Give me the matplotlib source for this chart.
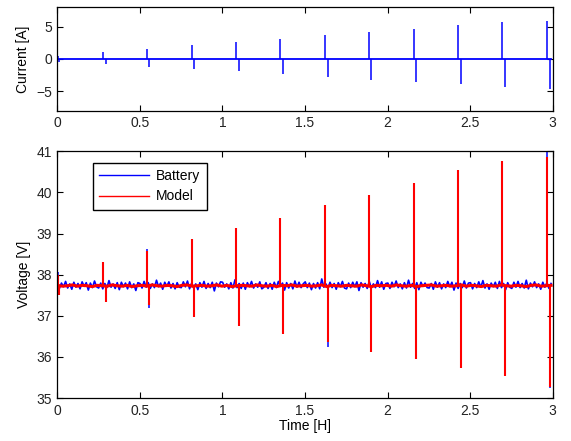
import matplotlib
matplotlib.use("Agg")
import matplotlib.pyplot as plt
import numpy as np

plt.rcParams['font.family'] = ['Liberation Sans', 'DejaVu Sans']
plt.rcParams['font.size'] = 10

# ---- data ----
spike_on = [0.003, 0.275, 0.545, 0.813, 1.081, 1.349, 1.620, 1.890, 2.160, 2.425, 2.695, 2.963]
spike_off = [0.012, 0.292, 0.558, 0.830, 1.099, 1.367, 1.637, 1.902, 2.172, 2.442, 2.712, 2.983]

current_on = [0.5, 1.1, 1.6, 2.1, 2.6, 3.1, 3.7, 4.2, 4.7, 5.3, 5.7, 5.8]
current_off = [-0.4, -0.8, -1.2, -1.5, -1.9, -2.3, -2.8, -3.2, -3.5, -3.8, -4.3, -4.7]

battery_on = [38.07, 38.30, 38.62, 38.86, 39.13, 39.38, 39.69, 39.94, 40.24, 40.54, 40.77, 41.20]
battery_off = [37.60, 37.33, 37.18, 36.98, 36.76, 36.56, 36.23, 36.11, 35.94, 35.74, 35.53, 35.25]
model_on = [38.00, 38.30, 38.58, 38.86, 39.13, 39.38, 39.69, 39.94, 40.24, 40.54, 40.77, 40.85]
model_off = [37.50, 37.33, 37.25, 36.98, 36.76, 36.56, 36.35, 36.11, 35.94, 35.74, 35.53, 35.27]

battery_level = 37.745
model_level = 37.73

# battery baseline wiggle, in hundredths of a volt around battery_level
battery_noise = [
    6, -8, 5, -4, 9, -7, 3, -10, 7, -5, 4, -9, 8, -3, 6, -12, 5, -6, 10, -4,
    -7, 5, -9, 4, -6, 11, -5, 3, -8, 6, -11, 7, -4, 5, -9, 8, -6, 3, -13, 6,
    4, -7, 9, -5, 6, -8, 3, -6, 12, -4, 5, -10, 7, -3, 8, -7, 4, -9, 6, -5,
    -6, 8, -4, 10, -9, 5, -7, 3, -11, 6, -5, 9, -8, 4, -6, 7, -14, 5, -4, 8,
    7, -5, 3, -9, 6, -7, 13, -6, 4, -8, 5, -10, 6, -4, 9, -7, 3, -5, 8, -9,
    -5, 6, -8, 4, -10, 7, -6, 9, -3, 5, -12, 6, -7, 4, -9, 10, -5, 7, -6, 3,
    8, -6, 5, -11, 4, -7, 6, -9, 15, -5, 3, -8, 7, -6, 4, -10, 6, -4, 9, -7,
    -9, 5, -6, 7, -4, 8, -13, 6, -5, 4, -8, 9, -7, 3, -6, 11, -5, 8, -10, 4,
    5, -8, 7, -4, 10, -6, 3, -9, 6, -7, 12, -5, 4, -8, 6, -11, 7, -3, 5, -6,
    -7, 4, -10, 8, -5, 6, -9, 3, -6, 9, -4, 7, -12, 5, -8, 4, -6, 10, -7, 5,
    6, -9, 4, -6, 8, -5, 11, -7, 3, -10, 5, -4, 7, -8, 9, -6, 4, -11, 6, -5,
    -8, 7, -5, 9, -6, 4, -7, 12, -9, 5, -4, 8, -6, 3, -10, 7, -5, 6, -8, 4,
]
# model baseline wiggle, in hundredths of a volt around model_level
model_noise = [
    1, -1, 0, 2, -1, 1, 0, -2, 1, 0, -1, 2, 0, -1, 1, -2, 0, 1, -1, 2,
    0, -1, 1, 0, -2, 1, 2, -1, 0, 1, -1, 0, 2, -1, 1, -2, 0, 1, 0, -1,
    2, 0, -1, 1, -2, 1, 0, 2, -1, 0, 1, -1, 0, 2, -2, 1, 0, -1, 1, 0,
    -1, 2, 0, -2, 1, 0, 1, -1, 2, 0, -1, 1, -2, 0, 1, 2, -1, 0, 1, -1,
    0, 2, -1, 1, 0, -2, 1, 0, -1, 2, 0, -1, 1, 0, -2, 1, 2, -1, 0, 1,
]

x_ticks = [0, 0.5, 1, 1.5, 2, 2.5, 3]
x_ticklabels = ['0', '0.5', '1', '1.5', '2', '2.5', '3']
current_ticks = [-5, 0, 5]
voltage_ticks = [35, 36, 37, 38, 39, 40, 41]

# ---- figure ----
fig = plt.figure(figsize=(5.71, 4.41), dpi=100)
ax1 = fig.add_axes([0.1004, 0.749, 0.8676, 0.2345])
ax2 = fig.add_axes([0.1004, 0.0975, 0.8676, 0.5594])

blue = '#0000ff'
red = '#ff0000'

# current
ax1.plot([0, 2.99], [0, 0], color=blue, lw=1.3)
ax1.vlines(spike_on, 0, current_on, color=blue, lw=1.1)
ax1.vlines(spike_off, 0, current_off, color=blue, lw=1.1)
ax1.set_xlim(0, 3)
ax1.set_ylim(-8, 8)
ax1.set_xticks(x_ticks)
ax1.set_xticklabels(x_ticklabels)
ax1.set_yticks(current_ticks)
ax1.set_ylabel('Current [A]')

# voltage
tb = np.linspace(0, 2.99, len(battery_noise))
vb = battery_level + np.array(battery_noise) / 100.0
tm = np.linspace(0, 2.99, len(model_noise))
vm = model_level + np.array(model_noise) / 100.0

ax2.plot(tb, vb, color=blue, lw=1.2, label='Battery')
ax2.vlines(spike_on, battery_level, battery_on, color=blue, lw=1.1)
ax2.vlines(spike_off, battery_level, battery_off, color=blue, lw=1.1)
ax2.plot(tm, vm, color=red, lw=2.2, label='Model')
ax2.vlines(spike_on, model_level, model_on, color=red, lw=1.5)
ax2.vlines(spike_off, model_level, model_off, color=red, lw=1.5)

ax2.set_xlim(0, 3)
ax2.set_ylim(35, 41)
ax2.set_xticks(x_ticks)
ax2.set_xticklabels(x_ticklabels)
ax2.set_yticks(voltage_ticks)
ax2.set_ylabel('Voltage [V]')
ax2.set_xlabel('Time [H]', labelpad=1)

leg = ax2.legend(loc='upper left', bbox_to_anchor=(0.072, 0.953), borderaxespad=0,
                 fancybox=False, edgecolor='black', framealpha=1,
                 handlelength=3.6, labelspacing=0.45, borderpad=0.45, handletextpad=0.5)
leg.get_frame().set_linewidth(1.0)
for line in leg.get_lines():
    line.set_linewidth(1.0)

for ax in (ax1, ax2):
    ax.tick_params(direction='in', top=True, right=True, length=4, width=0.8,
                   colors='black', labelcolor='#222222', pad=4)
    for s in ax.spines.values():
        s.set_linewidth(0.9)
        s.set_color('black')

fig.savefig('out.png', dpi=100)
